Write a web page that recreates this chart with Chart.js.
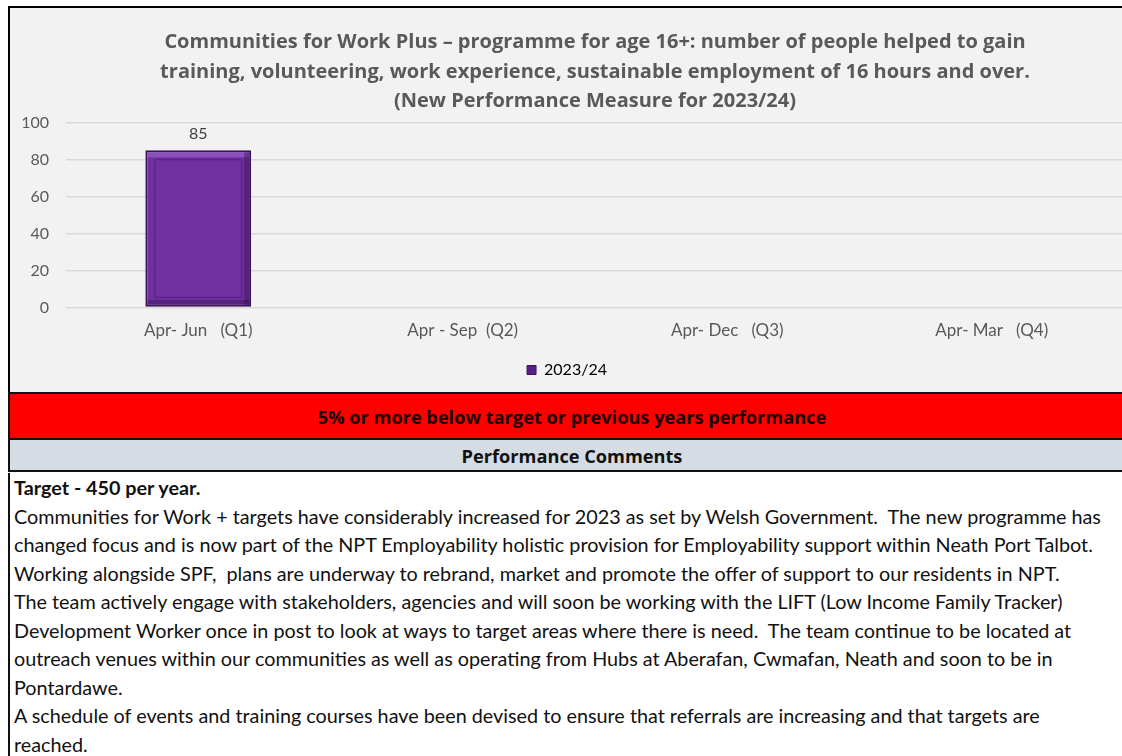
<!DOCTYPE html>
<html>
<head>
<meta charset="utf-8">
<script src="https://cdn.jsdelivr.net/npm/chart.js@4.4.0/dist/chart.umd.min.js"></script>
<style>
  html, body { margin: 0; padding: 0; background: #fff; }
  body { width: 1122px; height: 756px; position: relative; overflow: hidden; font-family: Lato, "Open Sans", sans-serif; }
  #box { position: absolute; left: 8px; top: 6px; width: 1114px; height: 386px; border-left: 2px solid #000; border-top: 2px solid #000; background: #f2f2f2; }
  #wrap { position: absolute; left: 0; top: 0; width: 1114px; height: 386px; }
  #red { position: absolute; left: 8px; top: 392px; width: 1104px; padding-left: 10px; height: 44px; background: #ff0000; border: 2px solid #111; border-right: none; text-align: center; font-family: "Open Sans", sans-serif; font-weight: bold; font-size: 18.2px; line-height: 46px; color: #1a0000; }
  #grey { position: absolute; left: 8px; top: 440px; width: 1104px; padding-left: 10px; height: 30px; background: #d6dce4; border-left: 2px solid #111; border-bottom: 2px solid #111; text-align: center; font-family: "Open Sans", sans-serif; font-weight: bold; font-size: 18.2px; line-height: 32px; color: #111; }
  #txt { position: absolute; left: 8px; top: 473px; width: 1110px; height: 290px; border-left: 2px solid #111; padding-left: 4px; font-size: 19.8px; line-height: 28.55px; color: #111; white-space: nowrap; }
</style>
</head>
<body>
<div id="box"><div id="wrap"><canvas id="grafica"></canvas></div></div>
<div id="red">5% or more below target or previous years performance</div>
<div id="grey">Performance Comments</div>
<div id="txt"><b>Target - 450 per year.</b><br>Communities for Work + targets have considerably increased for 2023 as set by Welsh Government.&nbsp; The new programme has<br>changed focus and is now part of the NPT Employability holistic provision for Employability support within Neath Port Talbot.<br>Working alongside SPF,&nbsp; plans are underway to rebrand, market and promote the offer of support to our residents in NPT.<br>The team actively engage with stakeholders, agencies and will soon be working with the LIFT (Low Income Family Tracker)<br>Development Worker once in post to look at ways to target areas where there is need.&nbsp; The team continue to be located at<br>outreach venues within our communities as well as operating from Hubs at Aberafan, Cwmafan, Neath and soon to be in<br>Pontardawe.<br>A schedule of events and training courses have been devised to ensure that referrals are increasing and that targets are<br>reached.</div>
<script>
const categorias = ["Apr- Jun   (Q1)", "Apr - Sep  (Q2)", "Apr- Dec   (Q3)", "Apr- Mar   (Q4)"];
const valores2324 = [85, null, null, null];
const etiquetasY = [0, 20, 40, 60, 80, 100];
const titulo = [
  "Communities for Work Plus \u2013 programme for age 16+: number of people helped to gain",
  "training, volunteering, work experience, sustainable employment of 16 hours and over.",
  "(New Performance Measure for 2023/24)"
];

// biselado de la barra + etiqueta de valor
const etiquetaValor = {
  id: 'etiquetaValor',
  afterDatasetsDraw(chart) {
    const ctx = chart.ctx;
    const meta = chart.getDatasetMeta(0);
    ctx.save();
    meta.data.forEach((bar, i) => {
      const v = chart.data.datasets[0].data[i];
      if (v === null || v === undefined) return;
      const l = bar.x - bar.width / 2, r = bar.x + bar.width / 2;
      const t = bar.y, b = bar.base;
      // bisel
      ctx.fillStyle = 'rgba(160,110,210,0.55)';
      ctx.fillRect(l + 2, t + 2, r - l - 4, 5);
      ctx.fillStyle = 'rgba(40,10,60,0.35)';
      ctx.fillRect(r - 7, t + 2, 5, b - t - 4);
      ctx.fillRect(l + 2, b - 7, r - l - 4, 5);
      ctx.strokeStyle = 'rgba(70,20,110,0.6)';
      ctx.lineWidth = 1;
      ctx.strokeRect(l + 9.5, t + 9.5, r - l - 19, b - t - 19);
      // valor
      ctx.font = '16px Lato, "Open Sans", sans-serif';
      ctx.fillStyle = '#404040';
      ctx.textAlign = 'center';
      ctx.textBaseline = 'bottom';
      ctx.fillText(String(v), bar.x, t - 8);
    });
    ctx.restore();
  }
};

const grafica = document.getElementById('grafica');
var chart = new Chart(grafica, {
  type: "bar",
  data: {
    labels: categorias,
    datasets: [
      {
        label: "2023/24",
        backgroundColor: "#7030a0",
        borderColor: "#3c1258",
        borderWidth: 2,
        borderSkipped: false,
        barPercentage: 0.8,
        categoryPercentage: 0.5,
        data: valores2324
      }
    ]
  },
  options: {
    responsive: true,
    maintainAspectRatio: false,
    animation: false,
    layout: { padding: { top: 0, right: 0, bottom: 6, left: 0 } },
    plugins: {
      title: {
        display: true,
        fullSize: false,
        text: titulo,
        color: '#595959',
        font: { family: '"Open Sans", sans-serif', size: 20, weight: 'bold', lineHeight: 1.475 },
        padding: { top: 20, bottom: 6 }
      },
      legend: {
        position: 'bottom',
        labels: {
          color: '#595959',
          font: { family: 'Lato, "Open Sans", sans-serif', size: 16 },
          boxWidth: 9,
          boxHeight: 9,
          padding: 16,
          generateLabels(chart) {
            return [{ text: '2023/24', fillStyle: '#5a2088', strokeStyle: '#3c1258', lineWidth: 1, datasetIndex: 0 }];
          }
        }
      },
      tooltip: { enabled: false }
    },
    scales: {
      x: {
        grid: { display: false },
        border: { display: false },
        ticks: { color: '#595959', font: { family: 'Lato, "Open Sans", sans-serif', size: 17 }, padding: 5 }
      },
      y: {
        min: 0,
        max: 100,
        afterFit(scale) { scale.width = 56; },
        afterBuildTicks(scale) { scale.ticks = etiquetasY.map(v => ({ value: v })); },
        grid: { color: '#d9d9d9', lineWidth: 1.5, drawTicks: false },
        border: { display: false },
        ticks: { color: '#595959', font: { family: 'Lato, "Open Sans", sans-serif', size: 16 }, padding: 17 }
      }
    }
  },
  plugins: [etiquetaValor]
});
</script>
</body>
</html>
